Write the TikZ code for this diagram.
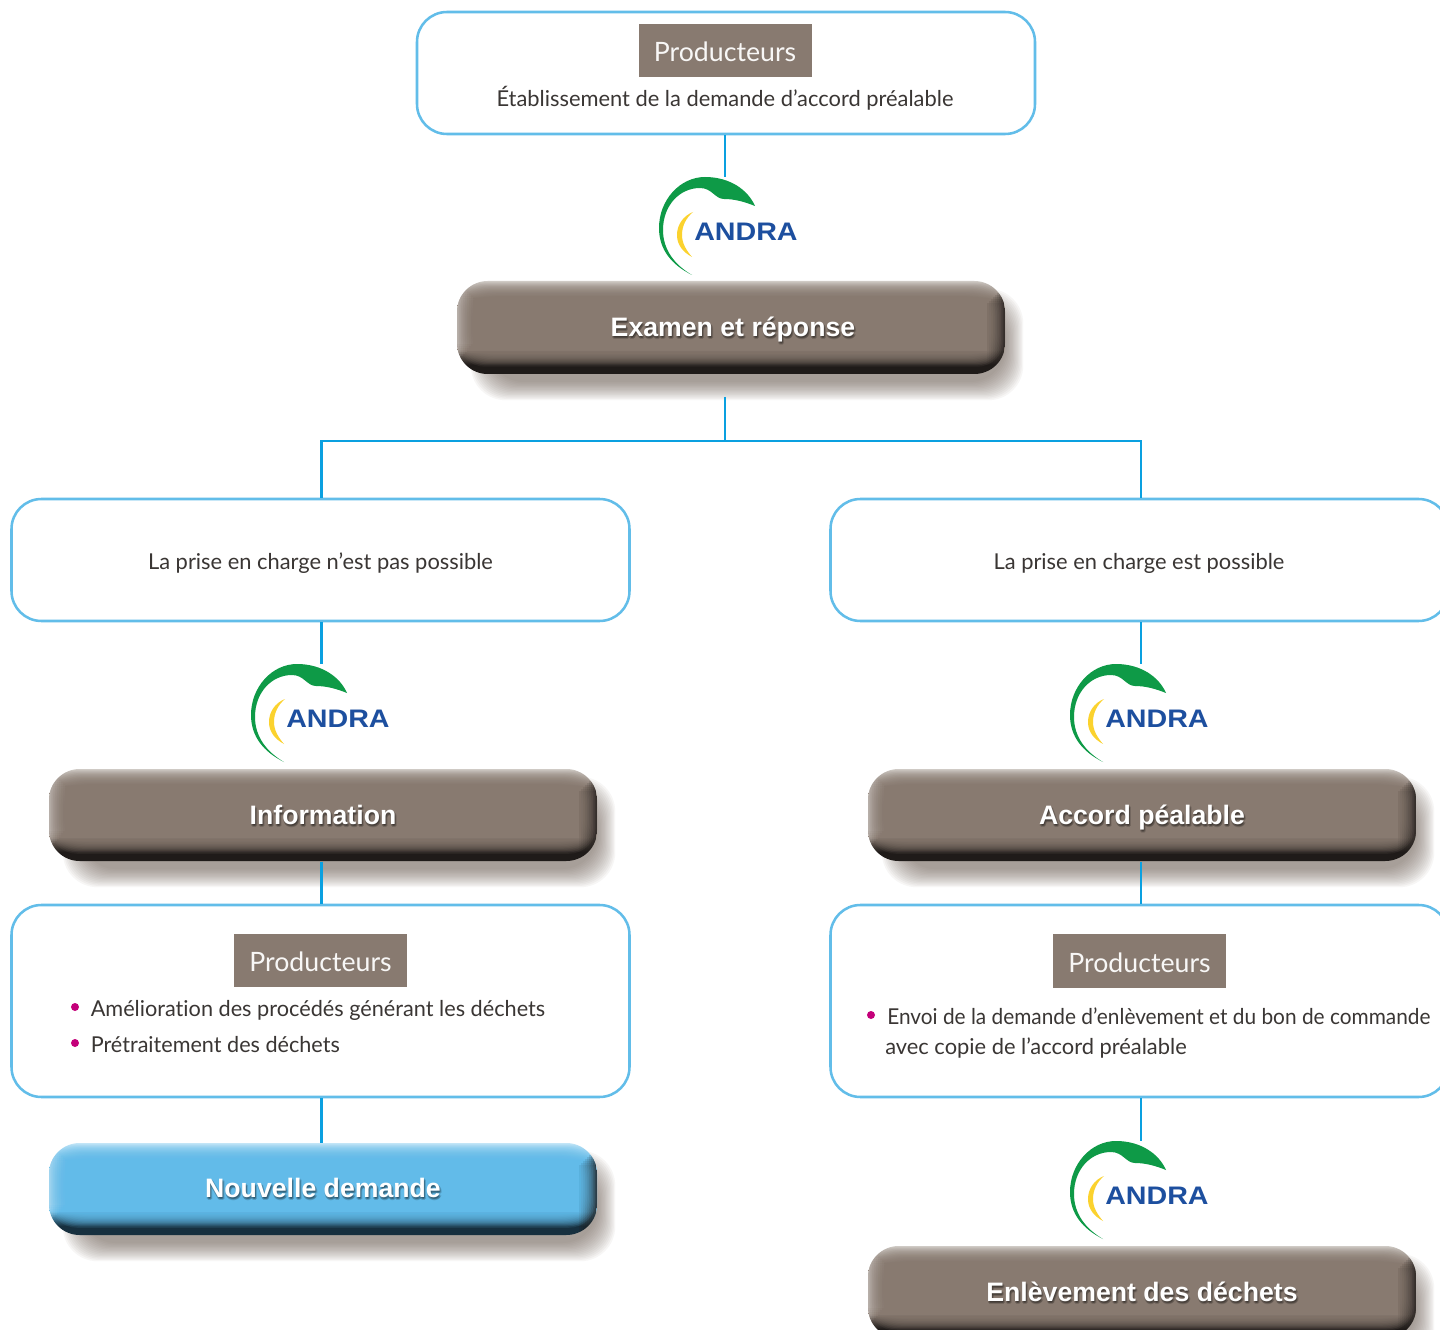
\documentclass[tikz,border=0pt]{standalone}
\usepackage{fontspec}
\setmainfont{Lato}[Ligatures=NoCommon]
\newfontfamily\btnfont{Liberation Sans}[BoldFont={Liberation Sans Bold}]
\usetikzlibrary{calc}
\definecolor{taupe}{HTML}{887A70}
\definecolor{taupelight}{HTML}{CFCAC5}
\definecolor{taupedark}{HTML}{1F1B19}
\definecolor{skybase}{HTML}{62BBE9}
\definecolor{skylight}{HTML}{C2E5F7}
\definecolor{skydark}{HTML}{17303F}
\definecolor{boxline}{HTML}{62BDE9}
\definecolor{conn}{HTML}{0AA0E0}
\definecolor{shadowc}{HTML}{6E5F56}
\definecolor{leafgreen}{HTML}{0E9A47}
\definecolor{sunyellow}{HTML}{FBD22E}
\definecolor{andrablue}{HTML}{1D4F9F}
\definecolor{bodytext}{HTML}{3A3634}
\definecolor{bulletc}{HTML}{C4007A}
\pgfdeclareverticalshading{taupebtn}{100bp}{color(0bp)=(taupedark);color(25bp)=(taupedark);color(30bp)=(taupedark);color(38bp)=(taupe);color(65bp)=(taupe);color(75bp)=(taupelight);color(100bp)=(taupelight)}
\pgfdeclareverticalshading{skybtn}{100bp}{color(0bp)=(skydark);color(25bp)=(skydark);color(30bp)=(skydark);color(38bp)=(skybase);color(65bp)=(skybase);color(75bp)=(skylight);color(100bp)=(skylight)}
\tikzset{
  x=0.75pt,y=-0.75pt,
  whitebox/.style={draw=boxline,line width=1.9pt,fill=white,rounded corners=22.5pt,minimum width=463.5pt,inner sep=0pt},
  tag/.style={fill=taupe,text=white!94!taupe,minimum width=129.75pt,minimum height=40pt,inner sep=0pt,text height=18pt,text depth=0.8pt,font=\fontsize{20}{24}\selectfont},
  bodyt/.style={text=bodytext,inner sep=0pt,anchor=base,font=\fontsize{16.4}{20}\selectfont},
  btnlabel/.style={minimum width=411pt,minimum height=69pt,inner sep=0pt,text height=15.5pt,text depth=2.5pt,font=\btnfont\bfseries\fontsize{20}{24}\selectfont},
  connline/.style={draw=conn,line width=1.95pt},
  dotb/.style={circle,fill=bulletc,minimum size=6pt,inner sep=0pt},
  logoword/.style={text=andrablue,inner sep=0pt,font=\btnfont\bfseries\fontsize{19}{24}\selectfont},
}
% button body: x1 y1 x2 y2 shading base
\newcommand{\btnbody}[6]{%
  \foreach \i in {0,...,14}{%
    \pgfmathsetmacro{\e}{(14-\i)*1.3}%
    \fill[shadowc,opacity=0.055,rounded corners=26pt]
      ({#1+32-\e},{#2+26-\e}) rectangle ({#3+\e},{#4+8+\e});
  }%
  \begin{scope}
    \clip[rounded corners=23pt] (#1,#2) rectangle (#3,#4);
    \shade[shading=#5] (#1,#2) rectangle (#3,#4);
    \foreach \i in {1,...,9}{%
      \pgfmathsetmacro{\w}{\i*2}%
      \pgfmathsetmacro{\t}{4+\i*2}%
      \fill[taupedark,opacity=0.15] ({#3-\w},{#2+\t}) rectangle (#3,#4);
      \fill[white,opacity=0.06] (#1,{#2+\t-4}) rectangle ({#1+\w},{#4-\t-8});
    }%
  \end{scope}
  \foreach \i in {1,...,14}{%
    \pgfmathsetmacro{\a}{\i*1.3}%
    \pgfmathsetmacro{\b}{6+\i*1.25}%
    \fill[#6,opacity=0.11,rounded corners=20pt]
      ({#1+\a},{#2+\a}) rectangle ({#3-\a},{#4-\b});
  }%
  \fill[#6,rounded corners=16pt] ({#1+19},{#2+19}) rectangle ({#3-19},{#4-25});
}
% soft shadow under a button label
\newcommand{\softlabel}[4]{%
  \foreach \dx/\dy in {1/1,2/2,0/2,1/3}{%
    \node[btnlabel,text=#4,opacity=0.16] at ({#2+\dx},{#3+\dy}) {#1};
  }%
}
% logo, drawn at the coordinates of the first one and shifted
\newcommand{\andralogo}[3]{%
  \begin{scope}[shift={(#1,#2)}]
    \fill[leafgreen] (692,275) .. controls (672,265) and (659,250) .. (659,228)
      .. controls (659,200) and (680,177) .. (705,177)
      .. controls (730,177) and (748,190) .. (755,206)
      .. controls (745,202) and (735,199) .. (724,199)
      .. controls (715,199) and (712,188) .. (700,188)
      .. controls (680,188) and (663,205) .. (663,230)
      .. controls (663,250) and (675,265) .. (692,275) -- cycle;
    \fill[sunyellow] (693,212) .. controls (683,216) and (677,225) .. (677,235)
      .. controls (677,245) and (683,252) .. (692,257)
      .. controls (686,250) and (682,243) .. (682,235)
      .. controls (682,226) and (686,218) .. (693,212) -- cycle;
    \node[logoword] (#3) at (746,232) {\scalebox{1.13}[1]{ANDRA}};
  \end{scope}
}
\begin{document}
\begin{tikzpicture}
\useasboundingbox (0,0) rectangle (1440,1330);
\clip (0,0) rectangle (1440,1330);
\fill[white] (0,0) rectangle (1440,1330);

% white boxes
\node[whitebox,minimum height=91.5pt] (top) at (726,73) {};
\node[whitebox,minimum height=91.5pt] (boxL) at (320.5,560) {};
\node[whitebox,minimum height=91.5pt] (boxR) at (1139.5,560) {};
\node[whitebox,minimum height=144pt] (boxLb) at (320.5,1001) {};
\node[whitebox,minimum height=144pt] (boxRb) at (1139.5,1001) {};

% logos
\andralogo{0}{0}{wordA}
\andralogo{-408}{487}{wordB}
\andralogo{411}{487}{wordC}
\andralogo{411}{964}{wordD}

% buttons
\btnbody{457}{281}{1005}{374}{taupebtn}{taupe}
\btnbody{49}{769}{597}{861}{taupebtn}{taupe}
\btnbody{868}{769}{1416}{861}{taupebtn}{taupe}
\btnbody{49}{1143}{597}{1235}{skybtn}{skybase}
\btnbody{868}{1246}{1416}{1338}{taupebtn}{taupe}
\softlabel{Examen et réponse}{733}{327.5}{black}
\softlabel{Information}{323}{815.7}{black}
\softlabel{Accord péalable}{1142}{815.7}{black}
\softlabel{Nouvelle demande}{323}{1189}{black}
\softlabel{Enlèvement des déchets}{1142}{1292.7}{black}
\node[btnlabel,text=white] (examen) at (733,327.5) {Examen et réponse};
\node[btnlabel,text=white] (info) at (323,815.7) {Information};
\node[btnlabel,text=white] (accord) at (1142,815.7) {Accord péalable};
\node[btnlabel,text=white] (nouvelle) at (323,1189) {Nouvelle demande};
\node[btnlabel,text=white] (enlev) at (1142,1292.7) {Enlèvement des déchets};

% connector anchors
\coordinate (logoAtop) at (725,177);
\coordinate (logoBtop) at (321.5,664);
\coordinate (logoCtop) at (1141,664);
\coordinate (logoDtop) at (1141,1141);
\coordinate (stub) at (725,397);
\coordinate (junction) at (725,441);
\coordinate (junctionL) at (321.5,441);
\coordinate (junctionR) at (1141,441);

% connectors
\draw[connline] (logoAtop |- top.south) -- (logoAtop);
\draw[connline] (stub) -- (junction);
\draw[connline] (junctionL |- boxL.north) -- (junctionL) -- (junctionR) -- (junctionR |- boxR.north);
\draw[connline] (logoBtop |- boxL.south) -- (logoBtop);
\draw[connline] (logoCtop |- boxR.south) -- (logoCtop);
\draw[connline] (logoBtop |- info.south) -- (logoBtop |- boxLb.north);
\draw[connline] (logoCtop |- accord.south) -- (logoCtop |- boxRb.north);
\draw[connline] (logoBtop |- boxLb.south) -- (logoBtop |- nouvelle.north);
\draw[connline] (logoDtop |- boxRb.south) -- (logoDtop);

% tags
\node[tag] (tagTop) at (725,50.5) {Producteurs};
\node[tag] (tagL) at (320.5,960.5) {Producteurs};
\node[tag] (tagR) at (1139.5,961) {Producteurs};

% texts
\node[bodyt] (t1) at (725,107) {Établissement de la demande d’accord préalable};
\node[bodyt] (t2) at (320.5,569.5) {La prise en charge n’est pas possible};
\node[bodyt] (t3) at (1139,569.5) {La prise en charge est possible};
\node[bodyt,anchor=base west] (t4) at (90.5,1016.5) {\scalebox{.992}[1]{Amélioration des procédés générant les déchets}};
\node[bodyt,anchor=base west] (t5) at (90.5,1052.5) {\scalebox{.988}[1]{Prétraitement des déchets}};
\node[bodyt,anchor=base west] (t6) at (887,1024.5) {\scalebox{.953}[1]{Envoi de la demande d’enlèvement et du bon de commande}};
\node[bodyt,anchor=base west] (t7) at (885,1054) {avec copie de l’accord préalable};
\node[dotb] (d1) at (75,1007) {};
\node[dotb] (d2) at (75,1043) {};
\node[dotb] (d3) at (871,1015) {};
\end{tikzpicture}
\end{document}
